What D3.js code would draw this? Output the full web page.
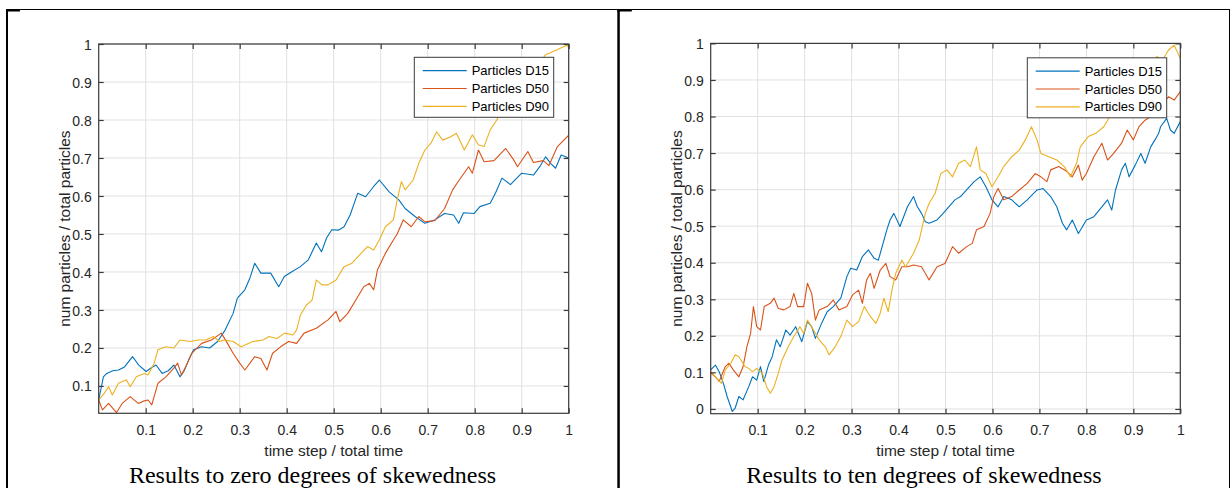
<!DOCTYPE html>
<html><head><meta charset="utf-8">
<script src="https://cdn.jsdelivr.net/npm/d3@7/dist/d3.min.js"></script>
<style>body{margin:0;background:#fff}svg{display:block}</style>
</head><body>
<script>
// ---------- data (t = time step / total time, v = num particles / total particles) ----------
const seriesNames = ["Particles D15", "Particles D50", "Particles D90"];
const seriesColors = ["#0072BD", "#D95319", "#EDB120"];
const xTickValues = [0.1,0.2,0.3,0.4,0.5,0.6,0.7,0.8,0.9,1];
const xTickLabels = ["0.1","0.2","0.3","0.4","0.5","0.6","0.7","0.8","0.9","1"];
const yTickValuesZero = [0.1,0.2,0.3,0.4,0.5,0.6,0.7,0.8,0.9,1];
const yTickLabelsZero = ["0.1","0.2","0.3","0.4","0.5","0.6","0.7","0.8","0.9","1"];
const yTickValuesTen = [0,0.1,0.2,0.3,0.4,0.5,0.6,0.7,0.8,0.9,1];
const yTickLabelsTen = ["0","0.1","0.2","0.3","0.4","0.5","0.6","0.7","0.8","0.9","1"];
const captions = ["Results to zero degrees of skewedness", "Results to ten degrees of skewedness"];
const xLabel = "time step / total time";
const yLabel = "num particles / total particles";

const zeroD15 = [[0,0.063],[0.01,0.124],[0.017,0.133],[0.03,0.14],[0.042,0.142],[0.055,0.15],[0.072,0.177],[0.085,0.155],[0.101,0.138],[0.112,0.148],[0.122,0.155],[0.135,0.133],[0.148,0.14],[0.16,0.155],[0.173,0.124],[0.181,0.138],[0.192,0.17],[0.202,0.195],[0.219,0.203],[0.236,0.2],[0.253,0.217],[0.269,0.247],[0.286,0.291],[0.295,0.331],[0.311,0.353],[0.322,0.385],[0.332,0.423],[0.345,0.397],[0.366,0.397],[0.383,0.361],[0.395,0.388],[0.41,0.4],[0.429,0.414],[0.446,0.432],[0.463,0.476],[0.474,0.453],[0.485,0.49],[0.496,0.511],[0.51,0.51],[0.522,0.519],[0.535,0.55],[0.551,0.607],[0.568,0.598],[0.585,0.625],[0.597,0.642],[0.618,0.611],[0.639,0.589],[0.652,0.567],[0.673,0.546],[0.694,0.528],[0.715,0.537],[0.736,0.554],[0.755,0.55],[0.766,0.528],[0.776,0.556],[0.799,0.554],[0.811,0.572],[0.833,0.581],[0.845,0.61],[0.858,0.647],[0.876,0.63],[0.9,0.66],[0.925,0.655],[0.94,0.68],[0.951,0.703],[0.962,0.685],[0.972,0.673],[0.984,0.708],[1,0.7]];
const zeroD50 = [[0,0.063],[0.008,0.037],[0.021,0.054],[0.038,0.03],[0.05,0.054],[0.067,0.072],[0.084,0.054],[0.095,0.06],[0.105,0.063],[0.113,0.05],[0.126,0.107],[0.143,0.124],[0.16,0.147],[0.168,0.16],[0.176,0.129],[0.185,0.15],[0.198,0.186],[0.219,0.212],[0.24,0.221],[0.261,0.239],[0.274,0.212],[0.286,0.186],[0.3,0.16],[0.311,0.142],[0.332,0.177],[0.345,0.172],[0.358,0.142],[0.37,0.186],[0.387,0.203],[0.404,0.217],[0.421,0.212],[0.437,0.239],[0.463,0.252],[0.488,0.274],[0.505,0.296],[0.513,0.269],[0.53,0.291],[0.547,0.326],[0.564,0.361],[0.576,0.37],[0.585,0.353],[0.593,0.405],[0.61,0.449],[0.627,0.484],[0.635,0.5],[0.648,0.537],[0.665,0.519],[0.681,0.546],[0.694,0.532],[0.715,0.535],[0.736,0.567],[0.753,0.616],[0.765,0.638],[0.787,0.677],[0.795,0.66],[0.808,0.721],[0.82,0.69],[0.841,0.693],[0.866,0.725],[0.883,0.695],[0.891,0.677],[0.913,0.717],[0.925,0.688],[0.946,0.693],[0.958,0.68],[0.976,0.73],[1,0.76]];
const zeroD90 = [[0,0.063],[0.012,0.081],[0.021,0.098],[0.029,0.076],[0.042,0.107],[0.059,0.116],[0.067,0.098],[0.08,0.124],[0.097,0.133],[0.105,0.129],[0.118,0.16],[0.126,0.195],[0.143,0.203],[0.16,0.2],[0.173,0.221],[0.194,0.217],[0.211,0.221],[0.228,0.221],[0.244,0.23],[0.257,0.217],[0.266,0.221],[0.286,0.217],[0.303,0.203],[0.328,0.217],[0.35,0.221],[0.362,0.23],[0.379,0.225],[0.396,0.239],[0.413,0.234],[0.421,0.247],[0.429,0.286],[0.442,0.313],[0.454,0.326],[0.463,0.379],[0.475,0.366],[0.488,0.366],[0.505,0.379],[0.522,0.414],[0.539,0.423],[0.555,0.445],[0.572,0.467],[0.585,0.458],[0.597,0.484],[0.61,0.519],[0.627,0.537],[0.635,0.589],[0.644,0.638],[0.652,0.616],[0.669,0.642],[0.681,0.686],[0.694,0.721],[0.707,0.739],[0.719,0.769],[0.732,0.747],[0.749,0.756],[0.761,0.765],[0.778,0.721],[0.795,0.761],[0.808,0.734],[0.82,0.73],[0.833,0.774],[0.847,0.8],[0.854,0.818],[0.88,0.86],[0.91,0.9],[0.94,0.95],[0.95,0.971],[0.974,0.984],[0.996,0.997],[1,0.99]];

const tenD15 = [[0,0.107],[0.01,0.12],[0.018,0.102],[0.027,0.07],[0.035,0.034],[0.046,-0.007],[0.052,0.002],[0.06,0.034],[0.069,0.025],[0.081,0.061],[0.089,0.088],[0.098,0.079],[0.106,0.116],[0.113,0.075],[0.123,0.12],[0.131,0.143],[0.14,0.189],[0.148,0.17],[0.16,0.216],[0.169,0.202],[0.181,0.225],[0.194,0.184],[0.206,0.239],[0.215,0.225],[0.223,0.193],[0.236,0.234],[0.248,0.266],[0.261,0.28],[0.277,0.303],[0.29,0.362],[0.298,0.385],[0.311,0.38],[0.323,0.417],[0.336,0.435],[0.348,0.412],[0.357,0.407],[0.369,0.462],[0.375,0.49],[0.382,0.517],[0.39,0.535],[0.403,0.499],[0.419,0.553],[0.432,0.581],[0.44,0.553],[0.449,0.535],[0.457,0.512],[0.465,0.508],[0.482,0.517],[0.495,0.535],[0.507,0.553],[0.52,0.572],[0.532,0.581],[0.545,0.599],[0.561,0.622],[0.574,0.635],[0.586,0.608],[0.599,0.572],[0.612,0.553],[0.624,0.581],[0.641,0.572],[0.657,0.553],[0.674,0.572],[0.695,0.599],[0.708,0.603],[0.724,0.581],[0.737,0.553],[0.749,0.508],[0.758,0.49],[0.77,0.517],[0.783,0.48],[0.8,0.517],[0.816,0.526],[0.833,0.553],[0.845,0.572],[0.854,0.544],[0.862,0.599],[0.875,0.654],[0.883,0.672],[0.891,0.635],[0.904,0.667],[0.916,0.699],[0.925,0.672],[0.937,0.717],[0.946,0.736],[0.954,0.754],[0.958,0.772],[0.971,0.795],[0.979,0.763],[0.987,0.754],[1,0.786]];
const tenD50 = [[0,0.098],[0.01,0.088],[0.018,0.075],[0.031,0.116],[0.039,0.125],[0.048,0.107],[0.06,0.088],[0.069,0.116],[0.077,0.17],[0.085,0.207],[0.091,0.28],[0.098,0.225],[0.106,0.216],[0.114,0.28],[0.127,0.289],[0.135,0.303],[0.144,0.275],[0.156,0.271],[0.169,0.28],[0.177,0.316],[0.185,0.28],[0.198,0.28],[0.206,0.344],[0.215,0.316],[0.223,0.243],[0.231,0.271],[0.248,0.28],[0.261,0.298],[0.273,0.271],[0.29,0.28],[0.302,0.312],[0.315,0.325],[0.323,0.289],[0.332,0.353],[0.34,0.371],[0.348,0.33],[0.361,0.38],[0.373,0.398],[0.382,0.362],[0.394,0.353],[0.407,0.389],[0.419,0.389],[0.432,0.394],[0.449,0.389],[0.465,0.353],[0.482,0.389],[0.499,0.398],[0.515,0.444],[0.528,0.426],[0.545,0.444],[0.557,0.453],[0.566,0.49],[0.582,0.499],[0.595,0.535],[0.603,0.581],[0.612,0.603],[0.624,0.572],[0.641,0.581],[0.657,0.599],[0.674,0.617],[0.691,0.644],[0.703,0.635],[0.716,0.622],[0.724,0.654],[0.741,0.663],[0.758,0.65],[0.77,0.635],[0.783,0.667],[0.791,0.626],[0.8,0.644],[0.816,0.69],[0.833,0.727],[0.845,0.681],[0.858,0.699],[0.875,0.727],[0.887,0.763],[0.9,0.736],[0.912,0.772],[0.925,0.79],[0.937,0.8],[0.95,0.845],[0.962,0.836],[0.975,0.854],[0.987,0.845],[1,0.868]];
const tenD90 = [[0,0.102],[0.01,0.088],[0.023,0.07],[0.031,0.107],[0.043,0.125],[0.052,0.148],[0.06,0.143],[0.073,0.116],[0.081,0.111],[0.089,0.102],[0.098,0.111],[0.11,0.098],[0.119,0.061],[0.127,0.043],[0.135,0.061],[0.144,0.098],[0.152,0.134],[0.165,0.17],[0.177,0.198],[0.19,0.225],[0.198,0.207],[0.206,0.243],[0.219,0.216],[0.231,0.189],[0.244,0.17],[0.252,0.148],[0.265,0.17],[0.277,0.198],[0.29,0.243],[0.302,0.225],[0.315,0.239],[0.327,0.28],[0.34,0.253],[0.352,0.234],[0.361,0.262],[0.369,0.303],[0.378,0.266],[0.386,0.325],[0.394,0.371],[0.407,0.407],[0.415,0.389],[0.432,0.426],[0.444,0.462],[0.449,0.49],[0.457,0.535],[0.465,0.562],[0.478,0.59],[0.49,0.644],[0.503,0.654],[0.515,0.635],[0.528,0.672],[0.541,0.681],[0.553,0.663],[0.566,0.717],[0.574,0.654],[0.586,0.644],[0.599,0.608],[0.612,0.635],[0.624,0.663],[0.641,0.69],[0.657,0.708],[0.67,0.736],[0.683,0.772],[0.695,0.736],[0.703,0.699],[0.72,0.69],[0.737,0.681],[0.753,0.663],[0.766,0.635],[0.779,0.672],[0.787,0.717],[0.804,0.745],[0.82,0.754],[0.837,0.772],[0.85,0.8],[0.858,0.809],[0.883,0.82],[0.91,0.87],[0.935,0.92],[0.95,0.964],[0.962,0.954],[0.975,0.982],[0.987,0.995],[1,0.959]];

const xDomain = [0, 1];
const yDomainZero = [0.028, 1];
const yDomainTen = [-0.013, 1];

// ---------- layout ----------
const W = 1231, H = 488;
const svg = d3.select("body").append("svg").attr("width", W).attr("height", H);

// document table borders
const border = svg.append("g").attr("fill", "#000");
border.append("rect").attr("x", 6).attr("y", 9).attr("width", 1224).attr("height", 1);
border.append("rect").attr("x", 6).attr("y", 9).attr("width", 2).attr("height", H - 9);
border.append("rect").attr("x", 6).attr("y", 9).attr("width", 14).attr("height", 2.5);
border.append("rect").attr("x", 617.3).attr("y", 9).attr("width", 2.5).attr("height", H - 9);
border.append("rect").attr("x", 617.3).attr("y", 9).attr("width", 14.5).attr("height", 2.5);
border.append("rect").attr("x", 1229).attr("y", 9).attr("width", 1).attr("height", H - 9);

const panels = [
  { l: 98.7, r: 568.7, t: 44, b: 413.3, yDomain: yDomainZero, yTicks: yTickValuesZero, yLabels: yTickLabelsZero,
    data: [zeroD15, zeroD50, zeroD90], legX: 414.3, legY: 57.3, caption: captions[0], cx: 312.5 },
  { l: 710.7, r: 1180.3, t: 43.4, b: 413.7, yDomain: yDomainTen, yTicks: yTickValuesTen, yLabels: yTickLabelsTen,
    data: [tenD15, tenD50, tenD90], legX: 1027.3, legY: 57.8, caption: captions[1], cx: 924 }
];

const axisColor = "#3a3a3a", textColor = "#262626", gridColor = "#e1e1e1";
const font = "'Liberation Sans', Arial, Helvetica, sans-serif";

panels.forEach((p, pi) => {
  const x = d3.scaleLinear().domain(xDomain).range([p.l, p.r]);
  const y = d3.scaleLinear().domain(p.yDomain).range([p.b, p.t]);
  const g = svg.append("g");

  // grid
  g.append("g").selectAll("line").data(xTickValues).join("line")
    .attr("x1", d => x(d)).attr("x2", d => x(d)).attr("y1", p.t).attr("y2", p.b)
    .attr("stroke", gridColor).attr("stroke-width", 1);
  g.append("g").selectAll("line").data(p.yTicks).join("line")
    .attr("y1", d => y(d)).attr("y2", d => y(d)).attr("x1", p.l).attr("x2", p.r)
    .attr("stroke", gridColor).attr("stroke-width", 1);

  // data lines
  const clipId = "clip" + pi;
  svg.append("clipPath").attr("id", clipId).append("rect")
    .attr("x", p.l).attr("y", p.t).attr("width", p.r - p.l).attr("height", p.b - p.t);
  const line = d3.line().x(d => x(d[0])).y(d => y(d[1]));
  g.append("g").attr("clip-path", `url(#${clipId})`).selectAll("path").data(p.data).join("path")
    .attr("d", line).attr("fill", "none")
    .attr("stroke", (d, i) => seriesColors[i]).attr("stroke-width", 1.1).attr("stroke-linejoin", "round");

  // axes (ticks inside, box on)
  const tl = 5;
  const mk = (axis) => axis.tickSizeInner(-tl).tickSizeOuter(0);
  const axB = g.append("g").attr("transform", `translate(0,${p.b})`)
    .call(mk(d3.axisBottom(x)).tickValues(xTickValues).tickFormat((d, i) => xTickLabels[i]).tickPadding(15));
  const axT = g.append("g").attr("transform", `translate(0,${p.t})`)
    .call(mk(d3.axisTop(x)).tickValues(xTickValues).tickFormat(""));
  const axL = g.append("g").attr("transform", `translate(${p.l},0)`)
    .call(mk(d3.axisLeft(y)).tickValues(p.yTicks).tickFormat((d, i) => p.yLabels[i]).tickPadding(7));
  const axR = g.append("g").attr("transform", `translate(${p.r},0)`)
    .call(mk(d3.axisRight(y)).tickValues(p.yTicks).tickFormat(""));
  [axB, axT, axL, axR].forEach(a => {
    a.select(".domain").remove();
    a.selectAll(".tick line").attr("stroke", axisColor).attr("stroke-width", 1.2);
    a.selectAll("text").attr("fill", textColor).style("font-family", font).style("font-size", "14px");
  });
  axB.selectAll(".tick text").attr("y", 434.7 - p.b).attr("dy", 0);
  axL.selectAll(".tick text").attr("dy", "0.36em");

  g.append("rect").attr("x", p.l).attr("y", p.t).attr("width", p.r - p.l).attr("height", p.b - p.t)
    .attr("fill", "none").attr("stroke", axisColor).attr("stroke-width", 1.2);

  // axis labels
  g.append("text").attr("x", (p.l + p.r) / 2).attr("y", 455.5).attr("text-anchor", "middle")
    .attr("fill", textColor).style("font-family", font).style("font-size", "15.5px").text(xLabel);
  g.append("text").attr("transform", `translate(${p.l - 29},${(p.t + p.b) / 2}) rotate(-90)`)
    .attr("text-anchor", "middle").attr("fill", textColor)
    .style("font-family", font).style("font-size", "15.5px").text(yLabel);

  // legend
  const lw = 139.4, lh = 60;
  const lg = g.append("g").attr("transform", `translate(${p.legX},${p.legY})`);
  lg.append("rect").attr("width", lw).attr("height", lh).attr("fill", "#fff")
    .attr("stroke", "#3a3a3a").attr("stroke-width", 1);
  seriesNames.forEach((name, i) => {
    const yy = 13.4 + i * 17.8;
    lg.append("line").attr("x1", 8.4).attr("x2", 52.4).attr("y1", yy).attr("y2", yy)
      .attr("stroke", seriesColors[i]).attr("stroke-width", 1.2);
    lg.append("text").attr("x", 57.4).attr("y", yy + 4.6).attr("fill", "#000")
      .style("font-family", font).style("font-size", "13px").text(name);
  });

  // caption
  svg.append("text").attr("x", p.cx).attr("y", 482.5).attr("text-anchor", "middle").attr("fill", "#000")
    .style("font-family", "'Liberation Serif', 'Times New Roman', serif").style("font-size", "24px").text(p.caption);
});
</script>
</body></html>
